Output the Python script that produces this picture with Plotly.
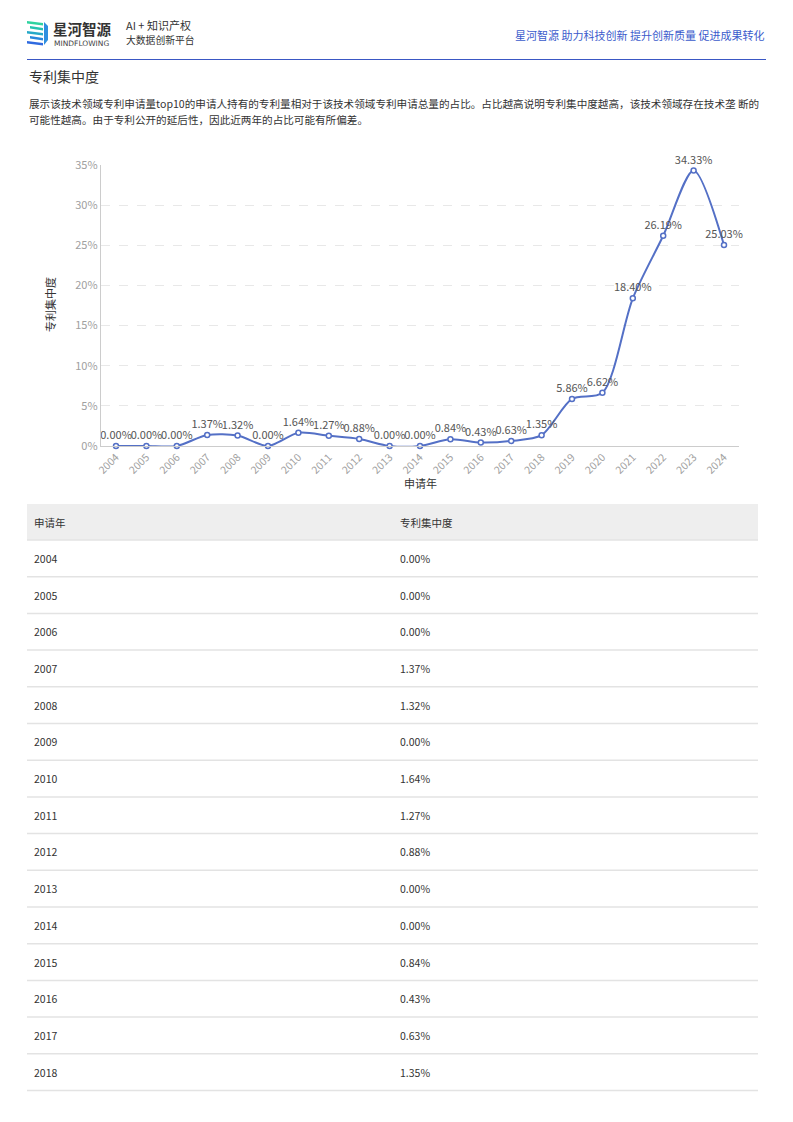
import plotly.graph_objects as go

# ---------------- data ----------------
years = [str(y) for y in range(2004, 2025)]
concentration = [0.00, 0.00, 0.00, 1.37, 1.32, 0.00, 1.64, 1.27, 0.88, 0.00, 0.00,
                 0.84, 0.43, 0.63, 1.35, 5.86, 6.62, 18.40, 26.19, 34.33, 25.03]
y_ticks = [0, 5, 10, 15, 20, 25, 30, 35]
table_header = ["申请年", "专利集中度"]
table_years = years[:15]
table_values = concentration[:15]

# page is 793x1122; the body has an 8px margin, so the figure is sized to fit inside it
OFF = 8
W, H = 793 - 2 * OFF, 1122 - 2 * OFF
FONT = "Noto Sans CJK SC, Microsoft YaHei, sans-serif"


def px(x):
    return (x - OFF) / W


def py(y):
    return 1 - (y - OFF) / H


fig = go.Figure()

fig.add_trace(go.Scatter(
    x=years, y=concentration,
    mode="lines+markers+text",
    text=[f"{v:.2f}%" for v in concentration],
    textposition="top center",
    textfont=dict(family=FONT, size=11, color="#555555"),
    line=dict(color="#5470c6", width=2, shape="spline", smoothing=0.8),
    marker=dict(size=5, color="white", line=dict(color="#5470c6", width=1.5)),
    cliponaxis=False,
    hoverinfo="x+y",
    showlegend=False,
))

shapes = []
annotations = []

# header blue line
shapes.append(dict(type="line", xref="paper", yref="paper",
                   x0=px(27), x1=px(766), y0=py(59.5), y1=py(59.5),
                   line=dict(color="#3a57c4", width=1)))

# logo icon (simple stripes)
logo_cols = ["#2fd3a0", "#27c2b0", "#26a9c8", "#2a86dc", "#2f6ae0"]
for i, c in enumerate(logo_cols):
    y0 = 21 + i * 5
    xs = 27 + (i % 2) * 3
    shapes.append(dict(type="path", xref="paper", yref="paper",
                       path=f"M {px(xs)},{py(y0)} L {px(43)},{py(y0 + 2)} "
                            f"L {px(43)},{py(y0 + 4.5)} L {px(xs)},{py(y0 + 2.5)} Z",
                       fillcolor=c, line=dict(width=0)))
shapes.append(dict(type="path", xref="paper", yref="paper",
                   path=f"M {px(44)},{py(22)} L {px(48)},{py(26)} L {px(48)},{py(40)} L {px(44)},{py(45)} Z",
                   fillcolor="#2f8fe0", line=dict(width=0)))

annotations += [
    dict(text="<b>星河智源</b>", x=px(51), y=py(28.5), xanchor="left", yanchor="middle",
         font=dict(family=FONT, size=14.5, color="#333333")),
    dict(text="MINDFLOWING", x=px(52), y=py(44), xanchor="left", yanchor="middle",
         font=dict(family="DejaVu Sans, sans-serif", size=7.5, color="#444444")),
    dict(text="AI + 知识产权", x=px(124), y=py(25.5), xanchor="left", yanchor="middle",
         font=dict(family=FONT, size=11, color="#333333")),
    dict(text="大数据创新平台", x=px(124), y=py(39.5), xanchor="left", yanchor="middle",
         font=dict(family=FONT, size=9.8, color="#333333")),
    dict(text="星河智源 助力科技创新 提升创新质量 促进成果转化", x=px(766), y=py(35),
         xanchor="right", yanchor="middle",
         font=dict(family=FONT, size=11, color="#3b5bcc")),
    dict(text="专利集中度", x=px(27), y=py(76), xanchor="left", yanchor="middle",
         font=dict(family=FONT, size=14, color="#333333")),
    dict(text="展示该技术领域专利申请量top10的申请人持有的专利量相对于该技术领域专利申请总量的占比。占比越高说明专利集中度越高，该技术领域存在技术垄 断的",
         x=px(27), y=py(104), xanchor="left", yanchor="middle",
         font=dict(family=FONT, size=10.6, color="#333333")),
    dict(text="可能性越高。由于专利公开的延后性，因此近两年的占比可能有所偏差。",
         x=px(27), y=py(120), xanchor="left", yanchor="middle",
         font=dict(family=FONT, size=10.6, color="#333333")),
    # axis titles
    dict(text="专利集中度", x=px(50), y=py(305), xanchor="center", yanchor="middle",
         textangle=-90, font=dict(family=FONT, size=11, color="#333333")),
    dict(text="申请年", x=px(420), y=py(483), xanchor="center", yanchor="middle",
         font=dict(family=FONT, size=11, color="#333333")),
]

# table
row_h = 36.7
head_top, head_bot = 504, 540
tx0, tx1 = 27, 758
shapes.append(dict(type="rect", xref="paper", yref="paper",
                   x0=px(tx0), x1=px(tx1), y0=py(head_top), y1=py(head_bot),
                   fillcolor="#eeeeee", line=dict(width=0), layer="below"))
shapes.append(dict(type="line", xref="paper", yref="paper",
                   x0=px(tx0), x1=px(tx1), y0=py(head_bot), y1=py(head_bot),
                   line=dict(color="#e3e3e3", width=1.5)))
col_x = [32, 398]
for j, h in enumerate(table_header):
    annotations.append(dict(text=h, x=px(col_x[j]), y=py((head_top + head_bot) / 2),
                            xanchor="left", yanchor="middle",
                            font=dict(family=FONT, size=10.5, color="#333333")))
for i, (yr, v) in enumerate(zip(table_years, table_values)):
    top = head_bot + i * row_h
    mid = top + row_h / 2
    bot = top + row_h
    annotations.append(dict(text=yr, x=px(col_x[0]), y=py(mid), xanchor="left", yanchor="middle",
                            font=dict(family=FONT, size=10.5, color="#333333")))
    annotations.append(dict(text=f"{v:.2f}%", x=px(col_x[1]), y=py(mid), xanchor="left",
                            yanchor="middle", font=dict(family=FONT, size=10.5, color="#333333")))
    shapes.append(dict(type="line", xref="paper", yref="paper",
                       x0=px(tx0), x1=px(tx1), y0=py(bot), y1=py(bot),
                       line=dict(color="#e3e3e3", width=1.5)))

for a in annotations:
    a.setdefault("xref", "paper")
    a.setdefault("yref", "paper")
    a.setdefault("showarrow", False)

fig.update_layout(
    width=W, height=H,
    margin=dict(l=0, r=0, t=0, b=0, pad=0, autoexpand=False),
    paper_bgcolor="white", plot_bgcolor="white",
    font=dict(family=FONT),
    shapes=shapes,
    annotations=annotations,
    xaxis=dict(
        type="category",
        domain=[px(100.8), px(739.2)],
        range=[-0.5, len(years) - 0.5],
        tickangle=-45,
        tickfont=dict(size=10.5, color="#a0a0a0"),
        showline=True, linecolor="#cccccc", linewidth=1,
        showgrid=False, zeroline=False, ticks="",
        automargin=False,
        fixedrange=True,
    ),
    yaxis=dict(
        domain=[py(446), py(165)],
        range=[0, 35],
        tickmode="array",
        tickvals=y_ticks,
        ticktext=[f"{t}%" for t in y_ticks],
        tickfont=dict(size=11, color="#a0a0a0"),
        showline=True, linecolor="#cccccc", linewidth=1,
        gridcolor="#e8e8e8", griddash="dash",
        zeroline=False, ticks="",
        automargin=False,
        fixedrange=True,
    ),
)

fig.write_html("out.html", config={"displayModeBar": False})
